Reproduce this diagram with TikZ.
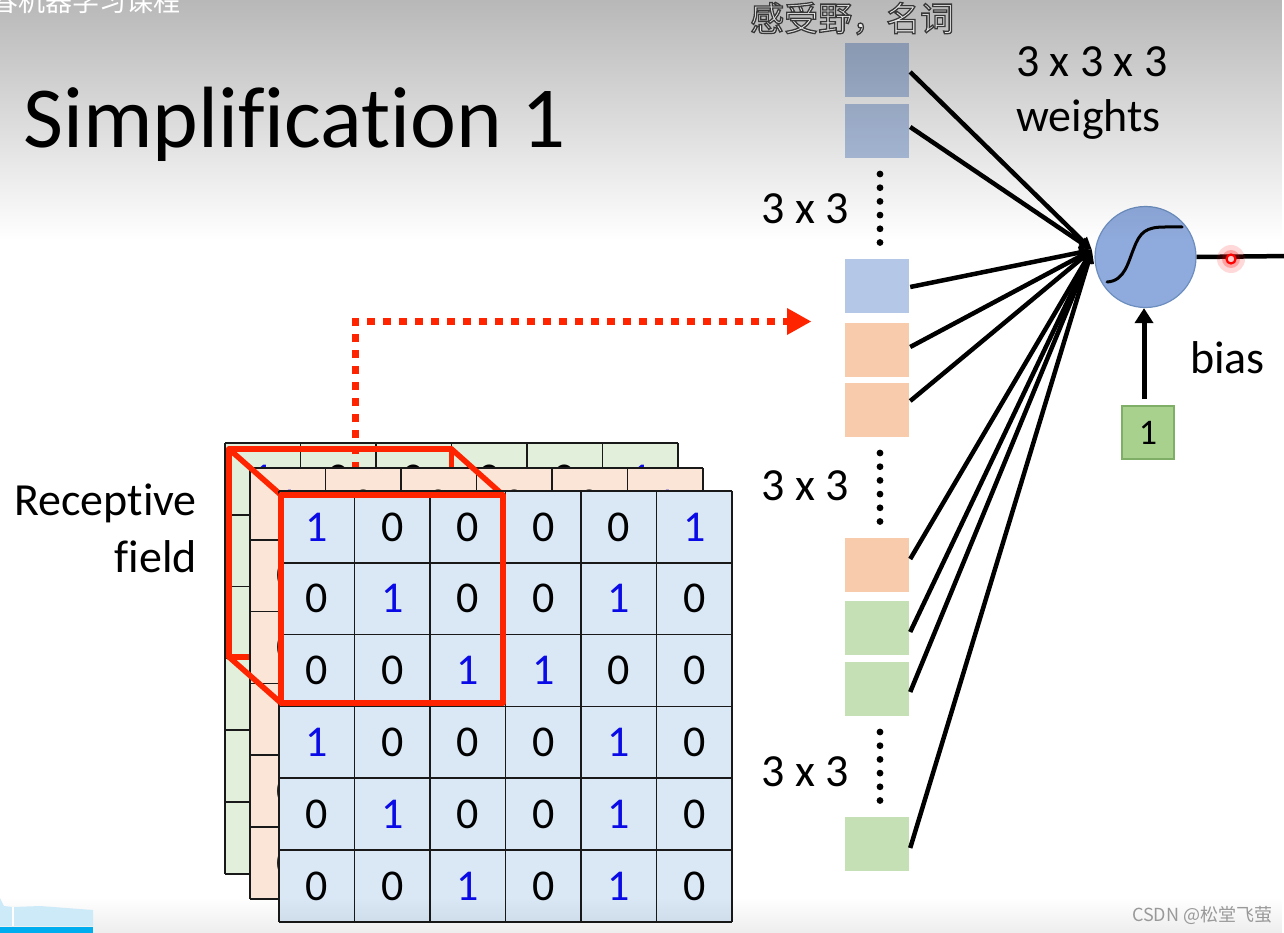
\documentclass[tikz,border=0pt]{standalone}
\usepackage{fontspec}
\setmainfont{Carlito}[Ligatures=CommonOff]
\newfontfamily\cjk{Noto Sans CJK SC}
\usetikzlibrary{arrows.meta,fadings,calc}

\definecolor{gridblue}{HTML}{DAE8F6}
\definecolor{gridorange}{HTML}{FBE5D6}
\definecolor{gridgreen}{HTML}{E2EFDA}
\definecolor{onecol}{HTML}{0A0AE6}
\definecolor{sqblue}{HTML}{B4C7E7}
\definecolor{sqorange}{HTML}{F8CBAD}
\definecolor{sqgreen}{HTML}{C5E0B4}
\definecolor{rfred}{HTML}{FF2400}
\definecolor{neufill}{HTML}{8FAADC}
\definecolor{neuedge}{HTML}{6C8EBF}
\definecolor{biasfill}{HTML}{A9D18E}
\definecolor{biasedge}{HTML}{7FAF66}
\definecolor{barlight}{HTML}{CDEAF8}
\definecolor{barblue}{HTML}{00AEEF}

\tikzfading[name=topfade, top color=transparent!72, bottom color=transparent!100]
\tikzfading[name=botfade, top color=transparent!100, bottom color=transparent!93]

\tikzset{
  gline/.style={line width=1.6pt, draw=black!90},
  digit/.style={font=\fontsize{44}{44}\selectfont, inner sep=0pt},
  rfline/.style={draw=rfred, line width=5.5pt, line join=round, line cap=round},
  sqbox/.style={minimum width=64pt, minimum height=54pt, inner sep=0pt, draw=none},
  wline/.style={line width=4.5pt, -{Triangle[length=13pt,width=11pt]}},
  lbltext/.style={font=\fontsize{46}{46}\selectfont, inner sep=0pt},
  subt/.style={font=\cjk\fontsize{34}{34}\selectfont, inner sep=0pt, anchor=base west},
}

\newcommand{\convgrid}[4]{%
  \fill[#3] (#1,#2) rectangle ({#1+453},{#2+430.8});
  \foreach [count=\r] \row in {{1,0,0,0,0,1},{0,1,0,0,1,0},{0,0,1,1,0,0},{1,0,0,0,1,0},{0,1,0,0,1,0},{0,0,1,0,1,0}}{
    \foreach [count=\c] \v in \row {
      \ifnum\v=1 \def\dcol{onecol}\else\def\dcol{black}\fi
      \node[digit, text=\dcol] (#4-\r-\c) at ({#1+(\c-0.5)*75.5},{#2+(\r-0.5)*71.8}) {\v};
    }
  }
  \foreach \i in {0,...,6}{
    \draw[gline] ({#1+\i*75.5},#2) -- ({#1+\i*75.5},{#2+430.8});
    \draw[gline] (#1,{#2+\i*71.8}) -- ({#1+453},{#2+\i*71.8});
  }
}

\begin{document}
\begin{tikzpicture}[x=1pt,y=-1pt]
\clip (0,0) rectangle (1284,933);
\fill[white] (0,0) rectangle (1284,933);

% ---------------- input volume ----------------
\convgrid{225}{443}{gridgreen}{g}
\coordinate (rfTop) at (355.5,470);
\coordinate (rfCorner) at (355.5,321.5);
\coordinate (rfEnd) at (787,321.5);
\draw[draw=rfred, line width=6.5pt, dash pattern=on 8pt off 8pt] (rfTop) -- (rfCorner) -- (rfEnd);
\fill[rfred] (787,308) -- (811,321.5) -- (787,335) -- cycle;

\coordinate (bTL) at (229,449);
\coordinate (bTR) at (451.5,449);
\coordinate (bBL) at (229,657);
\coordinate (bBR) at (451.5,657);
\draw[rfline] (bTL) -- (bTR) -- (bBR) -- (bBL) -- cycle;

\convgrid{250}{468}{gridorange}{o}

\coordinate (fTL) at (281,495);
\coordinate (fTR) at (503,495);
\coordinate (fBL) at (281,703);
\coordinate (fBR) at (503,703);
\draw[rfline] (bTL) -- (fTL);
\draw[rfline] (bTR) -- (fTR);
\draw[rfline] (bBL) -- (fBL);

\convgrid{279}{491}{gridblue}{f}
\draw[rfline] (fTL) -- (fTR) -- (fBR) -- (fBL) -- cycle;

\node[anchor=base east, lbltext] (rf1) at (197,515) {Receptive};
\node[anchor=base east, lbltext] (rf2) at (197,572) {field};

% ---------------- flattened column ----------------
\node[sqbox, fill=sqblue] (sq1) at (877,70) {};
\node[sqbox, fill=sqblue] (sq2) at (877,131) {};
\node[sqbox, fill=sqblue] (sq3) at (877,286) {};
\node[sqbox, fill=sqorange] (sq4) at (877,350) {};
\node[sqbox, fill=sqorange] (sq5) at (877,410) {};
\node[sqbox, fill=sqorange] (sq6) at (877,565) {};
\node[sqbox, fill=sqgreen] (sq7) at (877,628) {};
\node[sqbox, fill=sqgreen] (sq8) at (877,689) {};
\node[sqbox, fill=sqgreen] (sq9) at (877,844) {};

\foreach \y in {174,453,732}{
  \foreach \k in {0,...,5}{
    \fill (880,{\y+\k*13.7}) circle (3.4);
  }
}

\node[anchor=base east, lbltext] (k1) at (849,224) {3 x 3};
\node[anchor=base east, lbltext] (k2) at (849,500) {3 x 3};
\node[anchor=base east, lbltext] (k3) at (849,786) {3 x 3};

\node[anchor=base west, lbltext] (w1) at (1016,77) {3 x 3 x 3};
\node[anchor=base west, lbltext] (w2) at (1016,132) {weights};

% ---------------- neuron ----------------
\node[circle, minimum size=101pt, inner sep=0pt, fill=neufill, draw=neuedge, line width=1.2pt] (neuron) at (1145.5,257) {};
\draw[line width=3pt, line cap=round] (1107,282) .. controls (1125,281) and (1128,262) .. (1134,248) .. controls (1140,232) and (1146,227) .. (1165,227) -- (1182,227);

\coordinate (hub) at (1092,250);
\foreach \s/\o in {sq1/2, sq2/-4, sq3/1, sq4/-3, sq5/-9, sq6/-6, sq7/4, sq8/3, sq9/4}{
  \draw[wline] ($(\s.east)+(1,\o)$) -- (hub);
}

\node[draw=biasedge, fill=biasfill, line width=1.2pt, minimum width=52pt, minimum height=53pt, inner sep=0pt, font=\fontsize{36}{36}\selectfont] (one) at (1148,432.5) {1};
\coordinate (bstart) at (1144,399);
\draw[line width=5pt, -{Triangle[length=15pt,width=18pt]}] (bstart) -- (bstart |- neuron.south);
\node[anchor=base west, lbltext] (biaslbl) at (1190,373) {bias};

\coordinate (outEnd) at (1290,256);
\draw[line width=4.5pt] (neuron.east) -- (outEnd);
\fill[red, opacity=0.15] (1231,259) circle (14);
\fill[red, opacity=0.25] (1231,259) circle (9);
\draw[red, line width=2.2pt, fill=red!20] (1231,259) circle (4.5);

% ---------------- video overlays ----------------
\fill[black, path fading=topfade] (0,0) rectangle (1284,240);
\fill[black, path fading=botfade] (0,898) rectangle (1284,933);

\node[anchor=base west, inner sep=0pt, font=\fontsize{87}{87}\selectfont] (title) at (23,148) {Simplification 1};

\node[anchor=base west, inner sep=0pt, text=white, font=\cjk\fontsize{27}{27}\selectfont] (course) at (-9,12) {春机器学习课程};
\node[subt, text=black!8] (subtitle) at (750,31) {\special{pdf:literal direct 2 Tr 1.3 w 0.22 0.22 0.22 RG}感受野，名词\special{pdf:literal direct 0 Tr}};
\node[anchor=west, inner sep=0pt, text=black!40, font=\cjk\fontsize{18}{18}\selectfont] (csdn) at (1132,915) {CSDN @松堂飞萤};

\fill[barlight] (0,898) -- (4,906) -- (13,907) -- (40,906) -- (93,910) -- (93,926) -- (0,926) -- cycle;
\draw[white, line width=1.5pt] (13,907) -- (13,926);
\fill[barblue] (0,927) rectangle (93,933);
\end{tikzpicture}
\end{document}
